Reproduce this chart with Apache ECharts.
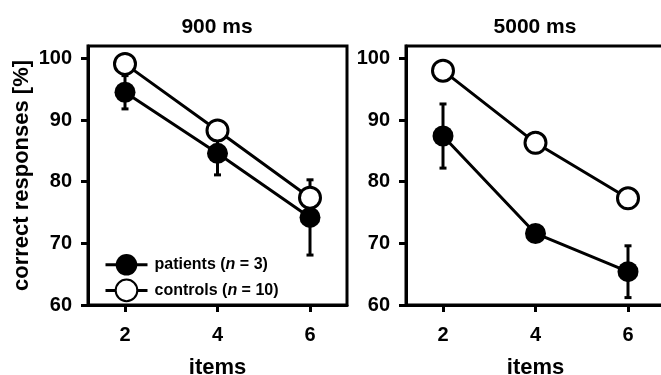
<!DOCTYPE html>
<html>
<head>
<meta charset="utf-8">
<script src="https://cdn.jsdelivr.net/npm/echarts@6/dist/echarts.min.js"></script>
<style>
  html, body { margin: 0; padding: 0; background: #fff; }
  #chart { width: 661px; height: 375px; }
</style>
</head>
<body>
<div id="chart"></div>
<script>
// set sizes (x values)
const items = [2, 4, 6]

// 900 ms panel
const patients900 = [94.5, 84.6, 74.2]
const patients900Err = [2.7, 3.5, 6.1]
const controls900 = [99.1, 88.3, 77.4]
const controls900Err = [0.8, 0.8, 1.0]

// 5000 ms panel
const patients5000 = [87.4, 71.6, 65.4]
const patients5000Err = [5.2, 1.2, 4.2]
const controls5000 = [98.0, 86.3, 77.3]
const controls5000Err = [0.8, 1.6, 1.5]

const yTicks = [60, 70, 80, 90, 100]
const panelTitles = ['900 ms', '5000 ms']

const FONT = '"Liberation Sans", Arial, sans-serif'
const LW = 3

const chart = echarts.init(document.getElementById('chart'))

const pts = (ys) => items.map((x, i) => [x, ys[i]])
const errPts = (ys, es) => items.map((x, i) => [x, ys[i] - es[i], ys[i] + es[i]])

function errorSeries(name, idx, ys, es) {
  return {
    name: name,
    type: 'custom',
    xAxisIndex: idx,
    yAxisIndex: idx,
    z: 1,
    silent: true,
    data: errPts(ys, es),
    renderItem: (params, api) => {
      const lo = api.coord([api.value(0), api.value(1)])
      const hi = api.coord([api.value(0), api.value(2)])
      const cap = 3.5
      const style = { stroke: '#000', lineWidth: LW }
      return {
        type: 'group',
        children: [
          { type: 'line', shape: { x1: lo[0], y1: lo[1], x2: hi[0], y2: hi[1] }, style },
          { type: 'line', shape: { x1: lo[0] - cap, y1: lo[1], x2: lo[0] + cap, y2: lo[1] }, style },
          { type: 'line', shape: { x1: hi[0] - cap, y1: hi[1], x2: hi[0] + cap, y2: hi[1] }, style }
        ]
      }
    }
  }
}

function lineSeries(name, idx, ys, filled) {
  return {
    name: name,
    type: 'line',
    xAxisIndex: idx,
    yAxisIndex: idx,
    z: 3,
    data: pts(ys),
    symbol: 'circle',
    symbolSize: 21,
    showAllSymbol: true,
    lineStyle: { color: '#000', width: LW },
    itemStyle: filled
      ? { color: '#000', borderColor: '#000', borderWidth: 0 }
      : { color: '#fff', borderColor: '#000', borderWidth: LW },
    emphasis: { disabled: true }
  }
}

function xAxis(idx) {
  return {
    type: 'value',
    gridIndex: idx,
    min: 1.2,
    max: 6.8,
    name: 'items',
    nameLocation: 'middle',
    nameGap: 52,
    nameTextStyle: { fontFamily: FONT, fontWeight: 'bold', fontSize: 22, color: '#000' },
    axisLine: { lineStyle: { color: '#000', width: LW } },
    axisTick: { customValues: items, length: 7, lineStyle: { color: '#000', width: LW } },
    axisLabel: { customValues: items, margin: 20, fontFamily: FONT, fontWeight: 'bold', fontSize: 20, color: '#000' },
    splitLine: { show: false }
  }
}

function yAxis(idx) {
  const ax = {
    type: 'value',
    gridIndex: idx,
    min: 60,
    max: 102,
    axisLine: { show: true, lineStyle: { color: '#000', width: LW } },
    axisTick: { show: true, customValues: yTicks, length: 7, lineStyle: { color: '#000', width: LW } },
    axisLabel: { customValues: yTicks, margin: 16, fontFamily: FONT, fontWeight: 'bold', fontSize: 20, color: '#000' },
    splitLine: { show: false }
  }
  if (idx === 0) {
    ax.name = 'correct responses [%]'
    ax.nameLocation = 'middle'
    ax.nameGap = 55
    ax.nameTextStyle = { fontFamily: FONT, fontWeight: 'bold', fontSize: 22, color: '#000' }
  }
  return ax
}

const gridBox = {
  show: true, borderColor: '#000', borderWidth: LW, backgroundColor: 'transparent',
  outerBoundsMode: 'none', containLabel: false
}

chart.setOption({
  animation: false,
  backgroundColor: '#fff',
  title: [
    { text: panelTitles[0], left: 212, top: 12, textAlign: 'center',
      textStyle: { fontFamily: FONT, fontWeight: 'bold', fontSize: 21, color: '#000' } },
    { text: panelTitles[1], left: 530, top: 12, textAlign: 'center',
      textStyle: { fontFamily: FONT, fontWeight: 'bold', fontSize: 21, color: '#000' } }
  ],
  grid: [
    Object.assign({ left: 88, top: 46, width: 259, height: 259 }, gridBox),
    Object.assign({ left: 406, top: 46, width: 259, height: 259 }, gridBox)
  ],
  xAxis: [xAxis(0), xAxis(1)],
  yAxis: [yAxis(0), yAxis(1)],
  legend: {
    orient: 'vertical',
    left: 99,
    top: 249,
    itemWidth: 42,
    itemHeight: 27,
    itemGap: 3,
    selectedMode: false,
    data: ['patients', 'controls'],
    lineStyle: { width: LW, color: '#000' },
    formatter: (name) => name === 'patients' ? 'patients ({i|n} = 3)' : 'controls ({i|n} = 10)',
    textStyle: {
      fontFamily: FONT, fontWeight: 'bold', fontSize: 16, color: '#000', padding: [0, 0, 0, 2],
      rich: { i: { fontFamily: FONT, fontWeight: 'bold', fontStyle: 'italic', fontSize: 16, color: '#000' } }
    }
  },
  series: [
    errorSeries('err-p-900', 0, patients900, patients900Err),
    errorSeries('err-c-900', 0, controls900, controls900Err),
    lineSeries('patients', 0, patients900, true),
    lineSeries('controls', 0, controls900, false),
    errorSeries('err-p-5000', 1, patients5000, patients5000Err),
    errorSeries('err-c-5000', 1, controls5000, controls5000Err),
    lineSeries('patients', 1, patients5000, true),
    lineSeries('controls', 1, controls5000, false)
  ]
})
</script>
</body>
</html>
